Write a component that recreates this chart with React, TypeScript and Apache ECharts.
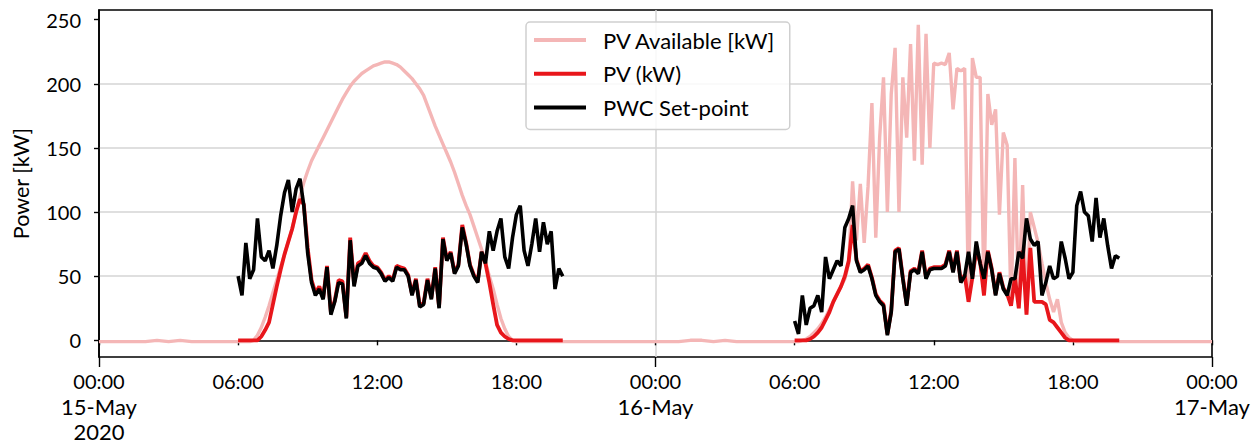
import React, { useEffect, useRef } from "react";
import * as echarts from "echarts";

// ---- axis tick labels ----
const xTickLabels = [
  ["00:00", "15-May", "2020"],
  ["06:00"],
  ["12:00"],
  ["18:00"],
  ["00:00", "16-May"],
  ["06:00"],
  ["12:00"],
  ["18:00"],
  ["00:00", "17-May"],
];
const yTickValues = [0, 50, 100, 150, 200, 250];

// ---- data (hours from 15-May 00:00; values in kW) ----
const STEP_MIN = 10; // 10-minute samples for day segments
const NIGHT_STEP_MIN = 30;

// PWC Set-point, 06:00 to 20:00
const pwcDay1 = [
  50, 35, 76, 48, 55, 95,
  65, 62, 70, 56, 74, 97,
  115, 125, 100, 118, 126, 105,
  68, 45, 35, 40, 32, 57,
  20, 30, 45, 44, 17, 78,
  42, 58, 60, 66, 60, 57,
  56, 52, 46, 49, 46, 57,
  55, 55, 50, 35, 47, 26,
  28, 47, 32, 56, 25, 79,
  62, 68, 52, 58, 88, 75,
  58, 50, 45, 69, 60, 85,
  70, 85, 95, 65, 56, 80,
  98, 105, 70, 58, 75, 95,
  69, 92, 75, 85, 40, 56,
  50,
];
const pwcDay2 = [
  15, 5, 35, 12, 25, 27,
  35, 22, 65, 48, 55, 62,
  58, 88, 95, 105, 62, 53,
  55, 58, 48, 35, 30, 27,
  4, 22, 69, 71, 48, 27,
  53, 55, 52, 69, 48, 55,
  56, 56, 56, 58, 69, 53,
  69, 45, 50, 69, 48, 77,
  60, 48, 69, 55, 35, 52,
  40, 35, 48, 48, 69, 64,
  95, 79, 74, 77, 35, 45,
  58, 48, 50, 77, 64, 48,
  53, 105, 116, 100, 97, 77,
  111, 80, 95, 74, 56, 66,
  64,
];

// PV (kW), 06:00 to 20:00
const pvDay1 = [
  0, 0, 0, 0, 0, 0,
  3, 8, 14, 28, 42, 55,
  67, 77, 87, 100, 110, 106,
  72, 47, 37, 42, 33, 58,
  22, 31, 47, 46, 18, 80,
  44, 60, 62, 68, 62, 58,
  57, 53, 47, 50, 47, 58,
  57, 56, 51, 36, 48, 27,
  29, 48, 33, 57, 26, 80,
  63, 69, 53, 59, 90, 76,
  59, 51, 46, 69, 60, 45,
  28, 12, 6, 3, 1, 0,
  0, 0, 0, 0, 0, 0,
  0, 0, 0, 0, 0, 0,
  0,
];
const pvDay2 = [
  0, 0, 0, 0, 1, 3,
  6, 10, 16, 22, 30, 36,
  42, 50, 62, 90, 63, 54,
  56, 59, 49, 36, 31, 28,
  5, 23, 70, 72, 49, 28,
  54, 56, 53, 70, 49, 56,
  57, 57, 57, 59, 70, 54,
  70, 46, 51, 30, 49, 70,
  61, 35, 70, 56, 36, 53,
  41, 36, 27, 49, 25, 70,
  20, 72, 30, 30, 30, 28,
  16, 14, 10, 6, 2, 0,
  0, 0, 0, 0, 0, 0,
  0, 0, 0, 0, 0, 0,
  0,
];

// PV Available [kW]
const availNight1 = [-1, -1, -1, -1, -1, 0, -1, 0, -1, -1, -1, -1]; // 00:00-05:30 (15-May)
const availDay1 = [
  -1, -1, -1, -1, 0, 4,
  10, 18, 27, 37, 47, 57,
  67, 77, 87, 100, 112, 123,
  132, 140, 146, 152, 158, 164,
  170, 176, 182, 188, 193, 198,
  202, 205, 208, 210, 212, 214,
  215, 216, 217, 217, 216, 215,
  213, 210, 207, 204, 200, 196,
  191, 183, 175, 167, 160, 153,
  146, 139, 131, 122, 113, 105,
  98, 89, 80, 71, 61, 50,
  40, 28, 17, 9, 3, 0,
  -1, -1, -1, -1, -1, -1,
  -1, -1, -1, -1, -1, -1,
  -1,
];
const availNight2 = [-1, -1, -1, -1, -1, -1, -1, -1, -1, -1, 0, 0, -1, 0, -1, -1, -1, -1, -1]; // 20:30-05:30
const availDay2 = [
  -1, -1, 0, 1, 3, 6,
  9, 13, 18, 24, 30, 36,
  42, 48, 60, 124, 78, 122,
  76, 120, 185, 80, 158, 205,
  100, 192, 228, 100, 205, 158,
  231, 140, 246, 137, 239, 150,
  216, 215, 216, 215, 224, 180,
  212, 210, 212, 30, 220, 205,
  205, 35, 192, 168, 180, 98,
  162, 152, 27, 142, 25, 121,
  20, 100, 88, 76, 60, 45,
  32, 22, 32, 14, 6, 2,
  0, -1, -1, -1, -1, -1,
  -1, -1, -1, -1, -1, -1,
  -1,
];
const availNight3 = [-1, -1, -1, -1, -1, -1, -1, -1]; // 20:30-24:00 (16-May)

function seg(startHour: number, stepMin: number, values: number[]) {
  return values.map((v, i) => [startHour + (i * stepMin) / 60, v]);
}

const FONT = "Lato";

export default function App() {
  const ref = useRef<HTMLDivElement>(null);
  useEffect(() => {
    if (!ref.current) return;
    const chart = echarts.init(ref.current, undefined, { renderer: "svg" });

    const availData = [
      ...seg(0, NIGHT_STEP_MIN, availNight1),
      ...seg(6, STEP_MIN, availDay1),
      ...seg(20.5, NIGHT_STEP_MIN, availNight2),
      ...seg(30, STEP_MIN, availDay2),
      ...seg(44.5, NIGHT_STEP_MIN, availNight3),
    ];
    const pvData = [...seg(6, STEP_MIN, pvDay1), [25, null], ...seg(30, STEP_MIN, pvDay2)];
    const pwcData = [...seg(6, STEP_MIN, pwcDay1), [25, null], ...seg(30, STEP_MIN, pwcDay2)];

    chart.setOption({
      animation: false,
      backgroundColor: "#ffffff",
      textStyle: { fontFamily: FONT },
      grid: {
        left: 99,
        right: 46,
        top: 10,
        bottom: 88,
        show: true,
        borderColor: "#000",
        borderWidth: 1.6,
        backgroundColor: "transparent",
        outerBoundsMode: "none",
        containLabel: false,
      },
      legend: {
        left: 526,
        top: 22,
        orient: "vertical",
        icon: "rect",
        itemWidth: 52,
        itemHeight: 4,
        itemGap: 11.7,
        padding: [7, 14, 11, 8],
        backgroundColor: "rgba(255,255,255,0.85)",
        borderColor: "#cfcfcf",
        borderWidth: 1.5,
        borderRadius: 4,
        textStyle: { fontSize: 22, fontFamily: FONT, color: "#000", padding: [0, 0, 0, 12] },
        data: ["PV Available [kW]", "PV (kW)", "PWC Set-point"],
      },
      xAxis: [
        {
          type: "value",
          min: 0,
          max: 48,
          interval: 6,
          axisLine: { show: true, lineStyle: { color: "#000", width: 1.6 } },
          axisTick: { show: true, length: 5, lineStyle: { color: "#000", width: 1.4 } },
          splitLine: { show: false },
          axisLabel: {
            show: true,
            margin: 11,
            fontFamily: FONT,
            color: "#000",
            showMinLabel: true,
            showMaxLabel: true,
            formatter: (v: number) => {
              const parts = xTickLabels[Math.round(v / 6)] ?? [];
              return parts.map((p, i) => (i === 0 ? `{t|${p}}` : `{d|${p}}`)).join("\n");
            },
            rich: {
              t: { fontSize: 20, lineHeight: 25.5, fontFamily: FONT, color: "#000" },
              d: { fontSize: 22, lineHeight: 25.5, fontFamily: FONT, color: "#000" },
            },
          },
        },
        {
          type: "value",
          min: 0,
          max: 48,
          interval: 24,
          position: "bottom",
          offset: 0,
          axisLine: { show: false },
          axisTick: { show: true, length: 10, lineStyle: { color: "#000", width: 1.4 } },
          axisLabel: { show: false },
          splitLine: {
            show: true,
            showMinLine: false,
            showMaxLine: false,
            lineStyle: { color: "#d4d4d4", width: 1.5 },
          },
        },
      ],
      yAxis: {
        type: "value",
        min: -13,
        max: 257.5,
        splitNumber: 5,
        name: "Power [kW]",
        nameLocation: "middle",
        nameGap: 67,
        nameTextStyle: { fontSize: 21.5, fontFamily: FONT, color: "#000" },
        axisLine: { show: true, lineStyle: { color: "#000", width: 1.6 } },
        axisTick: { show: true, length: 5, customValues: yTickValues, lineStyle: { color: "#000", width: 1.4 } },
        axisLabel: {
          margin: 18,
          fontSize: 20,
          fontFamily: FONT,
          color: "#000",
          customValues: yTickValues,
          formatter: (v: number) => (yTickValues.includes(v) ? String(v) : ""),
        },
        splitLine: {
          show: true,
          showMinLine: false,
          showMaxLine: false,
          lineStyle: { color: "#d4d4d4", width: 1.5 },
        },
      },
      series: [
        {
          name: "PV Available [kW]",
          type: "line",
          data: availData,
          symbol: "none",
          lineStyle: { color: "#f4b6b6", width: 3.4 },
          itemStyle: { color: "#f4b6b6" },
          z: 2,
        },
        {
          name: "PV (kW)",
          type: "line",
          data: pvData,
          symbol: "none",
          connectNulls: false,
          lineStyle: { color: "#e8161b", width: 3.8 },
          itemStyle: { color: "#e8161b" },
          z: 3,
        },
        {
          name: "PWC Set-point",
          type: "line",
          data: pwcData,
          symbol: "none",
          connectNulls: false,
          lineStyle: { color: "#000000", width: 3.6 },
          itemStyle: { color: "#000000" },
          z: 4,
        },
      ],
    });
    return () => chart.dispose();
  }, []);
  return (
    <div
      ref={ref}
      style={{ position: "fixed", left: 0, top: 0, width: 1258, height: 445, background: "#fff" }}
    />
  );
}
